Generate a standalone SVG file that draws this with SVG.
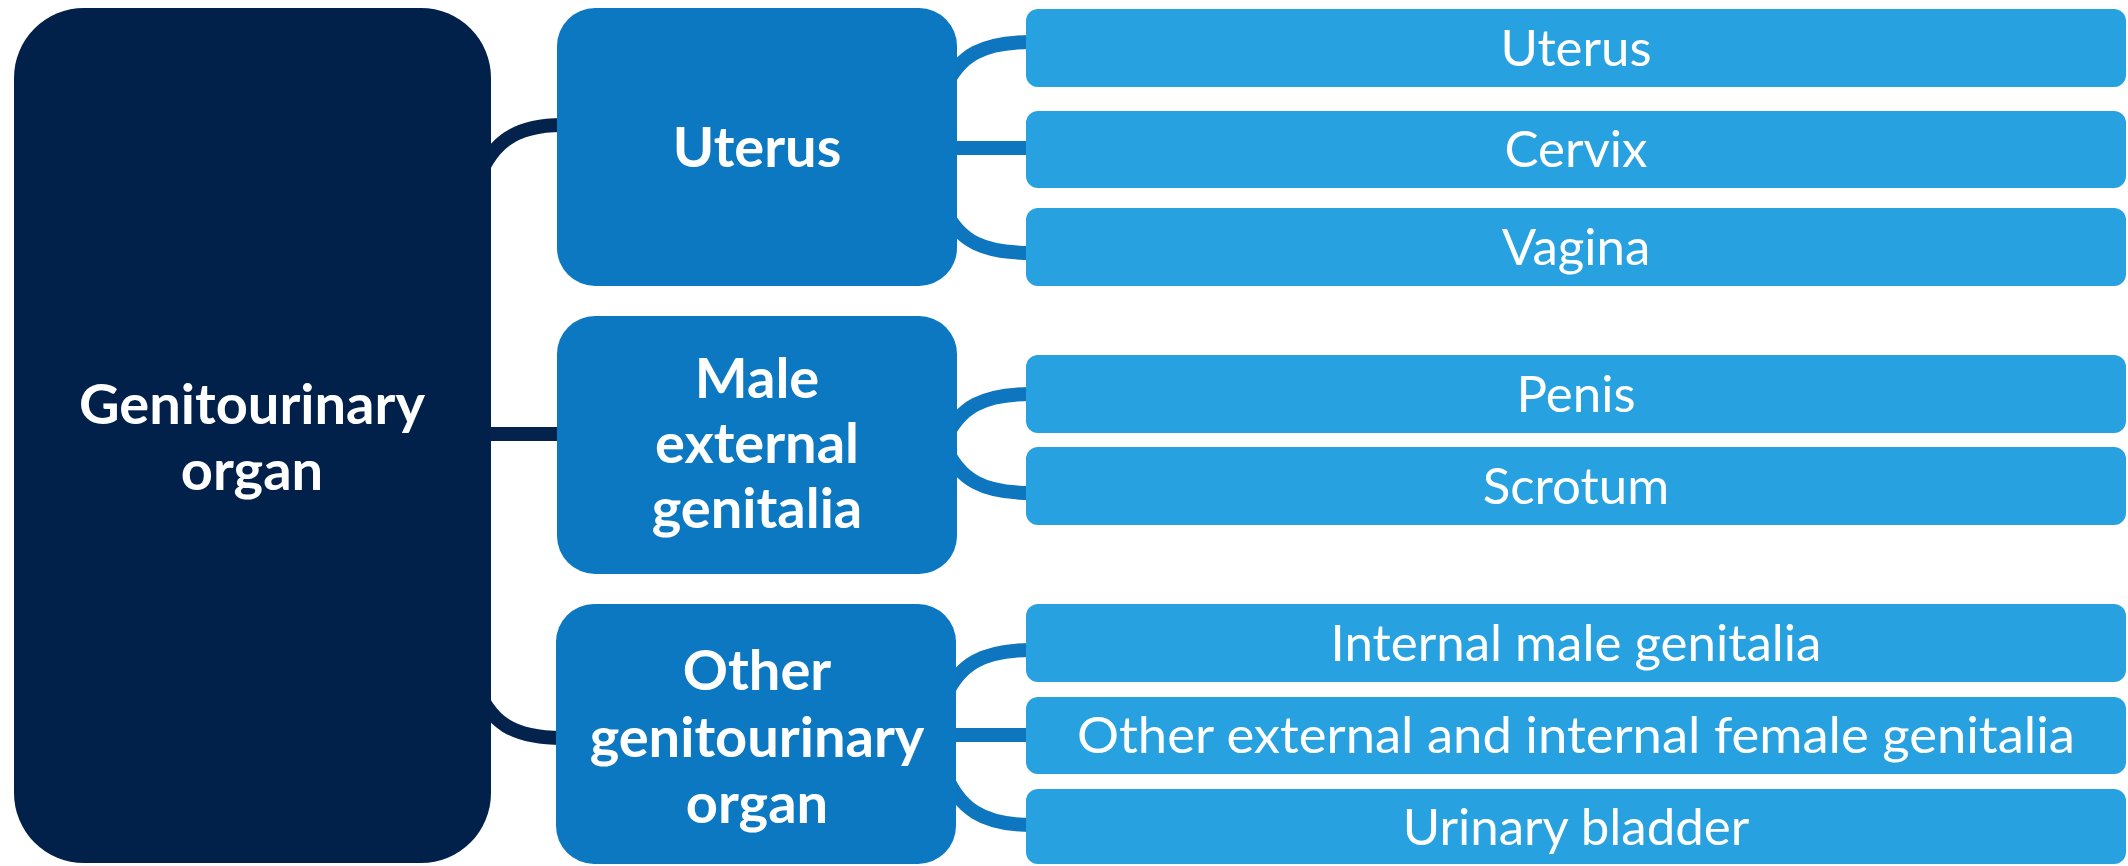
<svg xmlns="http://www.w3.org/2000/svg" width="2128" height="866" viewBox="0 0 2128 866">
<style>
.root{fill:#02214a}
.mid{fill:#0b78c1}
.leaf{fill:#27a1df}
.c1{fill:none;stroke:#03234d;stroke-width:14}
.c2{fill:none;stroke:#0d76be;stroke-width:14}
text{fill:#ffffff;font-family:Lato,"Open Sans","Liberation Sans",sans-serif;text-anchor:middle}
.b{font-weight:bold;font-size:56px}
.r{font-size:51px}
</style>
<rect width="2128" height="866" fill="#ffffff"/>
<g id="connectors">
<path class="c1" d="M474 190 C489 143 514 125 562 125"/>
<path class="c1" d="M480 434 L562 434"/>
<path class="c1" d="M474 680 C489 724 514 738 562 738"/>
<path class="c2" d="M944 90 C959 54 984 42 1032 42"/>
<path class="c2" d="M950 148 L1032 148"/>
<path class="c2" d="M944 208 C959 242 984 253 1032 253"/>
<path class="c2" d="M944 442 C959 406 984 394 1032 394"/>
<path class="c2" d="M944 444 C959 481 984 493 1032 493"/>
<path class="c2" d="M943 702 C958 663 984 650 1032 650"/>
<path class="c2" d="M950 735 L1032 735"/>
<path class="c2" d="M943 768 C958 810 984 825 1032 825"/>
</g>
<g id="root"><rect class="root" x="14" y="8" width="477" height="855" rx="70"/>
<text class="b" x="252" y="424">Genitourinary</text><text class="b" x="252" y="490">organ</text></g>
<g id="mid-uterus"><rect class="mid" x="557" y="8" width="400" height="278" rx="38"/>
<text class="b" x="757" y="167">Uterus</text></g>
<g id="mid-male"><rect class="mid" x="557" y="316" width="400" height="258" rx="38"/>
<text class="b" x="757" y="398">Male</text><text class="b" x="757" y="463">external</text><text class="b" x="757" y="528">genitalia</text></g>
<g id="mid-other"><rect class="mid" x="556" y="604" width="400" height="260" rx="38"/>
<text class="b" x="757" y="690">Other</text><text class="b" x="757" y="757">genitourinary</text><text class="b" x="757" y="823">organ</text></g>
<g id="leaf-uterus"><rect class="leaf" x="1026" y="9" width="1100" height="78" rx="12"/><text class="r" x="1576" y="66">Uterus</text></g>
<g id="leaf-cervix"><rect class="leaf" x="1026" y="111" width="1100" height="77" rx="12"/><text class="r" x="1576" y="167">Cervix</text></g>
<g id="leaf-vagina"><rect class="leaf" x="1026" y="208" width="1100" height="78" rx="12"/><text class="r" x="1576" y="265">Vagina</text></g>
<g id="leaf-penis"><rect class="leaf" x="1026" y="355" width="1100" height="78" rx="12"/><text class="r" x="1576" y="412">Penis</text></g>
<g id="leaf-scrotum"><rect class="leaf" x="1026" y="447" width="1100" height="78" rx="12"/><text class="r" x="1576" y="504">Scrotum</text></g>
<g id="leaf-internal"><rect class="leaf" x="1026" y="604" width="1100" height="78" rx="12"/><text class="r" x="1576" y="661">Internal male genitalia</text></g>
<g id="leaf-other"><rect class="leaf" x="1026" y="697" width="1100" height="77" rx="12"/><text class="r" x="1576" y="753" textLength="998" lengthAdjust="spacingAndGlyphs">Other external and internal female genitalia</text></g>
<g id="leaf-bladder"><rect class="leaf" x="1026" y="789" width="1100" height="75" rx="12"/><text class="r" x="1576" y="845">Urinary bladder</text></g>
</svg>
